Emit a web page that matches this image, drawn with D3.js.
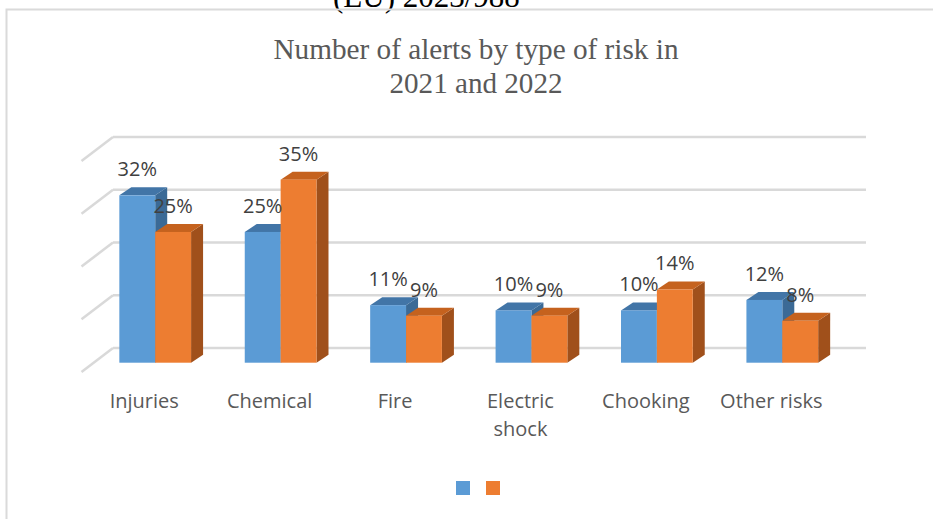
<!DOCTYPE html>
<html>
<head>
<meta charset="utf-8">
<script src="https://cdn.jsdelivr.net/npm/d3@7"></script>
<style>
  html, body { margin: 0; padding: 0; background: #fff; }
  svg { display: block; }
</style>
</head>
<body>
<svg id="chart" width="933" height="519"></svg>
<script>
// ---- data ----
const categories = ["Injuries", "Chemical", "Fire", "Electric shock", "Chooking", "Other risks"];
const categoryLines = [["Injuries"], ["Chemical"], ["Fire"], ["Electric", "shock"], ["Chooking"], ["Other risks"]];
const series = ["2021", "2022"];
const values2021 = [32, 25, 11, 10, 10, 12];
const values2022 = [25, 35, 9, 9, 14, 8];
const gridTicks = [0, 10, 20, 30, 40];
const titleLines = ["Number of alerts by type of risk in", "2021 and 2022"];
const headerText = "(EU) 2023/988";

// ---- styles ----
const colors = {
  "2021": { front: "#5b9bd5", top: "#4275a7", side: "#3b6a96" },
  "2022": { front: "#ed7d31", top: "#c5621e", side: "#a0501b" }
};

const svg = d3.select("#chart");

// header text clipped at top
svg.append("text")
  .attr("x", 333).attr("y", 6.5)
  .attr("font-family", "'Liberation Serif', 'Times New Roman', serif")
  .attr("font-size", 31)
  .attr("fill", "#000")
  .text(headerText);

// chart frame
svg.append("path")
  .attr("d", "M6.5,519 L6.5,9.5 L933,9.5")
  .attr("fill", "none")
  .attr("stroke", "#dadada")
  .attr("stroke-width", 2);

// title
const titleWidths = [405, 173];
const titleY = [59, 93];
titleLines.forEach((t, i) => {
  svg.append("text")
    .attr("x", 476).attr("y", titleY[i])
    .attr("text-anchor", "middle")
    .attr("font-family", "'Liberation Serif', 'Times New Roman', serif")
    .attr("font-size", 30)
    .attr("fill", "#595959")
    .attr("textLength", titleWidths[i])
    .attr("lengthAdjust", "spacingAndGlyphs")
    .text(t);
});

// ---- scales ----
const x = d3.scaleBand().domain(categories).range([92.5, 845]).paddingInner(0).paddingOuter(0);
const bw = x.bandwidth();
const xs = d3.scaleBand().domain(series).range([bw * 0.214, bw * 0.786]);
const y = d3.scaleLinear().domain([0, 40]).range([362.7, 153.5]);
const yBack = d3.scaleLinear().domain([0, 40]).range([348, 137]);
const wallLeft = 113, wallRight = 866;
const sideDx = -31.5, sideDy = 24;
const depthDx = 12, depthDy = -8;

// ---- gridlines (back wall + side wall) ----
const grid = svg.append("g").attr("stroke", "#d9d9d9").attr("stroke-width", 2.5).attr("fill", "none");
grid.selectAll("line.back").data(gridTicks).join("line")
  .attr("class", "back")
  .attr("x1", wallLeft).attr("x2", wallRight)
  .attr("y1", d => yBack(d)).attr("y2", d => yBack(d));
grid.selectAll("line.side").data(gridTicks).join("line")
  .attr("class", "side")
  .attr("x1", wallLeft + sideDx).attr("y1", d => yBack(d) + sideDy)
  .attr("x2", wallLeft).attr("y2", d => yBack(d));

// ---- bars ----
const barData = [];
categories.forEach((c, i) => {
  barData.push({ cat: c, s: "2021", v: values2021[i] });
  barData.push({ cat: c, s: "2022", v: values2022[i] });
});
const barsG = svg.append("g");
barData.forEach(d => {
  const x0 = x(d.cat) + xs(d.s);
  const x1 = x0 + xs.bandwidth();
  const yt = y(d.v), yb = y(0);
  const g = barsG.append("g");
  const col = colors[d.s];
  // side face
  g.append("path")
    .attr("d", `M${x1},${yb} L${x1 + depthDx},${yb + depthDy} L${x1 + depthDx},${yt + depthDy} L${x1},${yt} Z`)
    .attr("fill", col.side);
  // top face
  g.append("path")
    .attr("d", `M${x0},${yt} L${x0 + depthDx},${yt + depthDy} L${x1 + depthDx},${yt + depthDy} L${x1},${yt} Z`)
    .attr("fill", col.top);
  // front face
  g.append("rect")
    .attr("x", x0).attr("y", yt)
    .attr("width", x1 - x0).attr("height", yb - yt)
    .attr("fill", col.front);
});

// ---- data labels ----
svg.append("g").selectAll("text").data(barData).join("text")
  .attr("x", d => x(d.cat) + xs(d.s) + xs.bandwidth() / 2)
  .attr("y", d => y(d.v) - 19)
  .attr("text-anchor", "middle")
  .attr("font-family", "'Open Sans', 'Noto Sans', sans-serif")
  .attr("font-size", 20)
  .attr("fill", "#404040")
  .text(d => d.v + "%");

// ---- category labels ----
const catG = svg.append("g");
categories.forEach((c, i) => {
  const t = catG.append("text")
    .attr("x", x(c) + bw / 2 - 11)
    .attr("y", 408)
    .attr("text-anchor", "middle")
    .attr("font-family", "'Open Sans', 'Noto Sans', sans-serif")
    .attr("font-size", 20)
    .attr("fill", "#595959");
  categoryLines[i].forEach((line, j) => {
    t.append("tspan")
      .attr("x", x(c) + bw / 2 - 11)
      .attr("dy", j === 0 ? 0 : 28)
      .text(line);
  });
});

// ---- legend (markers only) ----
const legendX = d3.scaleBand().domain(series).range([448, 508]);
svg.append("g").selectAll("rect").data(series).join("rect")
  .attr("x", d => legendX(d) + (legendX.bandwidth() - 14) / 2)
  .attr("y", 481)
  .attr("width", 14).attr("height", 14)
  .attr("fill", d => colors[d].front);
</script>
</body>
</html>
